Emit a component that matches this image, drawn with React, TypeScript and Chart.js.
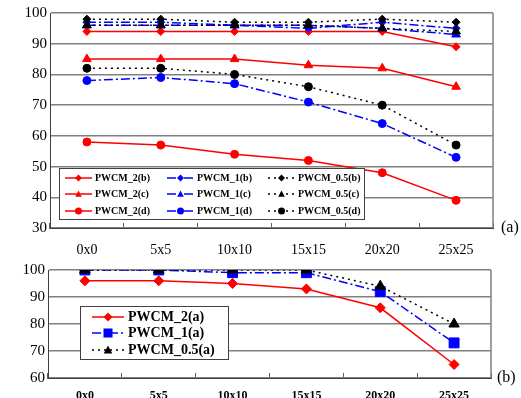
import React, { useEffect, useRef } from 'react';
import { Chart, registerables } from 'chart.js';

Chart.register(...registerables);

const FONT = '"Liberation Serif", "DejaVu Serif", serif';

// ---------- data ----------
const categories = ['0x0', '5x5', '10x10', '15x15', '20x20', '25x25'];

// panel (a)
const pwcm2b = [94, 94, 94, 94, 94, 89];
const pwcm2c = [85, 85, 85, 83, 82, 76];
const pwcm2d = [58, 57, 54, 52, 48, 39];
const pwcm1b = [97, 97, 96, 95, 97, 95];
const pwcm1c = [96, 96, 96, 96, 95, 93];
const pwcm1d = [78, 79, 77, 71, 64, 53];
const pwcm05b = [98, 98, 97, 97, 98, 97];
const pwcm05c = [96, 96, 96, 96, 95, 94];
const pwcm05d = [82, 82, 80, 76, 70, 57];

// panel (b)
const pwcm2a = [96, 96, 95, 93, 86, 65];
const pwcm1a = [100, 100, 99, 99, 92, 73];
const pwcm05a = [100, 100, 100, 100, 94, 80];

const yTicksA = { min: 30, max: 100, step: 10 };
const yTicksB = { min: 60, max: 100, step: 10 };

// ---------- styles ----------
const RED = '#ff0000';
const BLUE = '#0000ff';
const BLACK = '#000000';
const DASH_DOT = [9, 3, 2, 3];
const DOTTED = [2, 4];

function drawMarker(ctx: CanvasRenderingContext2D, shape: string, x: number, y: number, r: number, color: string) {
  ctx.save();
  ctx.setLineDash([]);
  ctx.fillStyle = color;
  ctx.beginPath();
  if (shape === 'circle') {
    ctx.arc(x, y, r, 0, Math.PI * 2);
  } else if (shape === 'rectRot') {
    ctx.moveTo(x, y - r);
    ctx.lineTo(x + r, y);
    ctx.lineTo(x, y + r);
    ctx.lineTo(x - r, y);
    ctx.closePath();
  } else if (shape === 'triangle') {
    ctx.moveTo(x, y - r);
    ctx.lineTo(x + r * 0.95, y + r * 0.75);
    ctx.lineTo(x - r * 0.95, y + r * 0.75);
    ctx.closePath();
  } else {
    ctx.rect(x - r, y - r, 2 * r, 2 * r);
  }
  ctx.fill();
  ctx.restore();
}

const decorPlugin = {
  id: 'decor',
  afterDatasetsDraw(chart: any, _args: any, opts: any) {
    const { ctx, chartArea: ca } = chart;
    ctx.save();
    // right frame
    ctx.strokeStyle = '#808080';
    ctx.lineWidth = 1.5;
    ctx.setLineDash([]);
    ctx.beginPath();
    ctx.moveTo(ca.right, ca.top);
    ctx.lineTo(ca.right, ca.bottom);
    ctx.stroke();

    // legend
    const L = opts.legend;
    ctx.fillStyle = '#ffffff';
    ctx.fillRect(L.x, L.y, L.w, L.h);
    ctx.strokeStyle = '#404040';
    ctx.lineWidth = 1;
    ctx.strokeRect(L.x + 0.5, L.y + 0.5, L.w, L.h);
    chart.data.datasets.forEach((ds: any, i: number) => {
      const col = Math.floor(i / L.rows);
      const row = i % L.rows;
      const x0 = L.x + L.colOffsets[col];
      const y0 = L.y + L.rowOffsets[row];
      ctx.save();
      ctx.strokeStyle = ds.borderColor;
      ctx.lineWidth = ds.borderWidth;
      ctx.setLineDash(ds.borderDash || []);
      ctx.beginPath();
      ctx.moveTo(x0, y0);
      ctx.lineTo(x0 + L.lineLen, y0);
      ctx.stroke();
      ctx.restore();
      drawMarker(ctx, ds.pointStyle, x0 + L.lineLen / 2, y0, L.markerR, ds.borderColor);
      ctx.fillStyle = '#000';
      ctx.font = L.font;
      ctx.textAlign = 'left';
      ctx.textBaseline = 'middle';
      ctx.fillText(ds.label, x0 + L.lineLen + L.textGap, y0 + 0.5);
    });

    // side label
    ctx.fillStyle = '#000';
    ctx.font = `16px ${FONT}`;
    ctx.textAlign = 'left';
    ctx.textBaseline = 'middle';
    ctx.fillText(opts.sideLabel, ca.right + opts.sideGap, ca.bottom);
    ctx.restore();
  },
};

function ds(label: string, data: number[], color: string, dash: number[], pointStyle: string, r: number, order: number) {
  return {
    label,
    data,
    borderColor: color,
    backgroundColor: color,
    borderWidth: 1.5,
    borderDash: dash,
    pointStyle,
    pointRadius: r,
    pointBorderWidth: 1,
    pointBackgroundColor: color,
    pointBorderColor: color,
    tension: 0,
    order,
  };
}

function makeConfig(
  datasets: any[],
  yr: { min: number; max: number; step: number },
  canvasH: number,
  area: { top: number; bottom: number; left: number; right: number },
  xFont: any,
  xPad: number,
  legend: any,
  sideLabel: string,
  sideGap: number
): any {
  return {
    type: 'line',
    data: { labels: categories, datasets },
    plugins: [decorPlugin],
    options: {
      animation: false,
      responsive: false,
      layout: { padding: { top: area.top, right: 521 - area.right, left: 0, bottom: 0 } },
      plugins: {
        legend: { display: false },
        tooltip: { enabled: false },
        decor: { legend, sideLabel, sideGap },
      },
      scales: {
        x: {
          offset: true,
          grid: { offset: true, drawOnChartArea: false, drawTicks: true, tickLength: -5, color: '#606060', lineWidth: 1 },
          border: { color: '#404040', width: 1 },
          ticks: { padding: xPad, font: xFont, color: '#000' },
          afterFit: (s: any) => {
            s.height = canvasH - area.bottom;
          },
        },
        y: {
          min: yr.min,
          max: yr.max,
          ticks: { stepSize: yr.step, padding: 3, font: { family: FONT, size: 15 }, color: '#000' },
          grid: { color: '#808080', lineWidth: 1.5, drawTicks: false },
          border: { color: '#404040', width: 1 },
          afterFit: (s: any) => {
            s.width = area.left;
          },
        },
      },
    },
  };
}

function Panel({ top, height, config }: { top: number; height: number; config: () => any }) {
  const ref = useRef<HTMLCanvasElement>(null);
  useEffect(() => {
    const chart = new Chart(ref.current as HTMLCanvasElement, config());
    return () => chart.destroy();
  }, []);
  return (
    <div style={{ position: 'absolute', left: 0, top, width: 521, height }}>
      <canvas ref={ref} width={521} height={height} style={{ display: 'block' }} />
    </div>
  );
}

export default function App() {
  const topConfig = () =>
    makeConfig(
      [
        ds('PWCM_2(b)', pwcm2b, RED, [], 'rectRot', 4, 2),
        ds('PWCM_2(c)', pwcm2c, RED, [], 'triangle', 5, 2),
        ds('PWCM_2(d)', pwcm2d, RED, [], 'circle', 4, 2),
        ds('PWCM_1(b)', pwcm1b, BLUE, DASH_DOT, 'rectRot', 4, 1),
        ds('PWCM_1(c)', pwcm1c, BLUE, DASH_DOT, 'triangle', 5, 1),
        ds('PWCM_1(d)', pwcm1d, BLUE, DASH_DOT, 'circle', 4, 1),
        ds('PWCM_0.5(b)', pwcm05b, BLACK, DOTTED, 'rectRot', 4, 0),
        ds('PWCM_0.5(c)', pwcm05c, BLACK, DOTTED, 'triangle', 5, 0),
        ds('PWCM_0.5(d)', pwcm05d, BLACK, DOTTED, 'circle', 4, 0),
      ],
      yTicksA,
      262,
      { top: 13, bottom: 228, left: 50, right: 493 },
      { family: FONT, size: 14 },
      19,
      {
        x: 59, y: 168, w: 305, h: 51, rows: 3,
        colOffsets: [6, 108, 209], rowOffsets: [10, 26, 43],
        lineLen: 27, textGap: 3, markerR: 3.5,
        font: `bold 10px ${FONT}`,
      },
      '(a)',
      8
    );
  const bottomConfig = () =>
    makeConfig(
      [
        ds('PWCM_2(a)', pwcm2a, RED, [], 'rectRot', 5, 2),
        ds('PWCM_1(a)', pwcm1a, BLUE, DASH_DOT, 'rect', 7, 1),
        ds('PWCM_0.5(a)', pwcm05a, BLACK, DOTTED, 'triangle', 6, 0),
      ],
      yTicksB,
      140,
      { top: 12, bottom: 120, left: 48, right: 491 },
      { family: FONT, size: 12, weight: 'bold' },
      16,
      {
        x: 80, y: 48, w: 148, h: 53, rows: 3,
        colOffsets: [12], rowOffsets: [11, 27, 44],
        lineLen: 32, textGap: 4, markerR: 4.5,
        font: `bold 14px ${FONT}`,
      },
      '(b)',
      6
    );
  return (
    <div style={{ position: 'absolute', left: 0, top: 0, width: 521, height: 398, background: '#fff' }}>
      <Panel top={0} height={262} config={topConfig} />
      <Panel top={258} height={140} config={bottomConfig} />
    </div>
  );
}
